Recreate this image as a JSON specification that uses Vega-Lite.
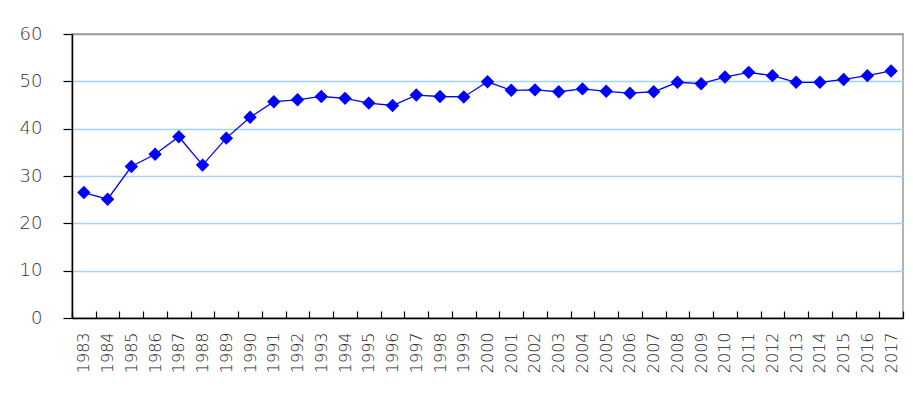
{
  "$schema": "https://vega.github.io/schema/vega-lite/v6.json",
  "autosize": "none",
  "width": 831,
  "height": 284,
  "padding": {"left": 72, "top": 34, "right": 10, "bottom": 76},
  "background": "white",
  "config": {
    "view": {"stroke": "#9a9a9a", "strokeWidth": 1.5},
    "axis": {"labelFont": "DejaVu Sans", "labelColor": "#333333", "domainColor": "#000000", "tickColor": "#000000", "domainWidth": 1.5, "tickWidth": 1.2}
  },
  "data": {
    "values": [
      {"year": "1983", "value": 26.5},
      {"year": "1984", "value": 25.1},
      {"year": "1985", "value": 32.0},
      {"year": "1986", "value": 34.6},
      {"year": "1987", "value": 38.3},
      {"year": "1988", "value": 32.3},
      {"year": "1989", "value": 38.0},
      {"year": "1990", "value": 42.4},
      {"year": "1991", "value": 45.7},
      {"year": "1992", "value": 46.1},
      {"year": "1993", "value": 46.8},
      {"year": "1994", "value": 46.4},
      {"year": "1995", "value": 45.4},
      {"year": "1996", "value": 44.9},
      {"year": "1997", "value": 47.1},
      {"year": "1998", "value": 46.8},
      {"year": "1999", "value": 46.7},
      {"year": "2000", "value": 49.9},
      {"year": "2001", "value": 48.1},
      {"year": "2002", "value": 48.2},
      {"year": "2003", "value": 47.8},
      {"year": "2004", "value": 48.4},
      {"year": "2005", "value": 47.9},
      {"year": "2006", "value": 47.5},
      {"year": "2007", "value": 47.8},
      {"year": "2008", "value": 49.8},
      {"year": "2009", "value": 49.5},
      {"year": "2010", "value": 50.9},
      {"year": "2011", "value": 51.9},
      {"year": "2012", "value": 51.2},
      {"year": "2013", "value": 49.8},
      {"year": "2014", "value": 49.8},
      {"year": "2015", "value": 50.4},
      {"year": "2016", "value": 51.2},
      {"year": "2017", "value": 52.2}
    ]
  },
  "encoding": {
    "x": {
      "field": "year",
      "type": "ordinal",
      "scale": {"type": "band", "paddingInner": 0, "paddingOuter": 0},
      "axis": {
        "title": null,
        "labelAngle": -90,
        "labelFontSize": 16,
        "labelFontWeight": 300,
        "labelColor": "#222222",
        "tickBand": "extent",
        "tickSize": -7,
        "labelPadding": 21,
        "grid": false
      }
    },
    "y": {
      "field": "value",
      "type": "quantitative",
      "scale": {"domain": [0, 60], "nice": false},
      "axis": {
        "title": null,
        "values": [0, 10, 20, 30, 40, 50, 60],
        "labelFontSize": 18,
        "labelFontWeight": 300,
        "tickSize": 9,
        "labelPadding": 21,
        "grid": true,
        "gridColor": {"condition": {"test": "datum.value == 60", "value": "#9a9a9a"}, "value": "#a3d1ff"},
        "gridWidth": 1.5
      }
    }
  },
  "layer": [
    {"mark": {"type": "line", "color": "#0000ff", "strokeWidth": 1.3}},
    {"mark": {"type": "point", "shape": "diamond", "filled": true, "color": "#0000ff", "opacity": 1, "size": 180}}
  ]
}
